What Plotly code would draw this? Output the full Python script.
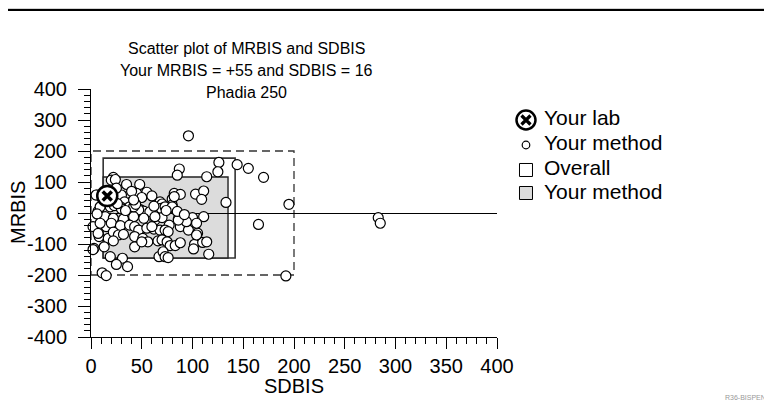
import plotly.graph_objects as go

# ---- data ----
sd = [96, 126, 144, 155, 170, 125, 195, 165, 283, 285, 192,
      87, 85, 114, 133, 103, 111, 109, 82, 88, 80, 80, 76, 68, 70, 67, 55, 48, 45, 35, 22, 20, 24, 30, 40, 38, 33, 29, 48, 52, 58, 7, 6,
      9, 19, 23, 30, 38, 47, 69, 73, 80,
      14, 22, 32, 42, 52, 63, 70, 10, 15, 20, 29, 38, 43, 47, 55, 62, 68, 8, 17, 22, 27, 32, 43, 51, 56, 66, 3, 13, 22, 43, 50, 19, 31, 25, 36, 67, 11, 15,
      86, 100, 111, 88, 96, 77, 73, 76, 105, 70, 75, 78, 83, 88, 102, 110, 101, 71, 73, 76, 116,
      94, 104, 104, 114, 60, 86, 63,
      2, 7, 2, 6, 9, 5,
      40, 50, 60, 25, 42, 26, 34, 44, 62, 74, 85, 92, 42, 82]
mr = [249, 163, 156, 144, 115, 133, 28, -37, -15, -33, -203,
      142, 122, 117, 34, 61, 71, 44, 63, 60, 45, 26, 14, 36, 29, 10, 67, 92, 63, 92, 115, 106, 108, 58, 36, 26, 36, 20, 12, 6, 4, 6, 58,
      20, 20, 24, 13, 20, 10, 15, 20, 20,
      -12, -17, -19, -12, -17, -23, -15, -39, -44, -33, -41, -39, -44, -55, -49, -52, -55, -76, -82, -62, -71, -69, -76, -82, -93, -90, -114, -109, -90, -109, -93, -141, -146, -166, -173, -141, -193, -202,
      -19, -15, -12, -44, -55, -39, -55, -60, -65, -87, -93, -105, -105, -96, -101, -95, -116, -125, -141, -144, -133,
      -28, -33, -71, -93, -44, -23, -12,
      -44, -66, -118, -3, -33, 58,
      70, 50, 55, 80, 20, 30, 8, 28, 22, 8, 5, -5, 42, 53]

lab_sd = [16]
lab_mr = [55]

overall_sd = [12, 142]
overall_mr = [-145, 177]
method_sd = [12, 135]
method_mr = [-145, 116]
limit_sd = [0, 200]
limit_mr = [-200, 200]

x_tick_vals = [0, 50, 100, 150, 200, 250, 300, 350, 400]
x_tick_text = ["0", "50", "100", "150", "200", "250", "300", "350", "400"]
y_tick_vals = [-400, -300, -200, -100, 0, 100, 200, 300, 400]
y_tick_text = ["-400", "-300", "-200", "-100", "0", "100", "200", "300", "400"]

title_lines = ["Scatter plot of MRBIS and SDBIS", "Your MRBIS = +55 and SDBIS = 16", "Phadia 250"]
legend_labels = ["Your lab", "Your method", "Overall", "Your method"]

FONT = "Liberation Sans, Arial, sans-serif"
GREY = "#dcdcdc"

fig = go.Figure()

fig.add_trace(go.Scatter(
    x=sd, y=mr, mode="markers", name="Your method", showlegend=False,
    marker=dict(symbol="circle", size=10, color="white", line=dict(color="black", width=1.2)),
    cliponaxis=False))
fig.add_trace(go.Scatter(
    x=lab_sd, y=lab_mr, mode="markers", name="Your lab", showlegend=False,
    marker=dict(symbol="circle", size=20, color="white", line=dict(color="black", width=2.5)),
    cliponaxis=False))
fig.add_trace(go.Scatter(
    x=lab_sd, y=lab_mr, mode="markers", name="Your lab", showlegend=False, hoverinfo="skip",
    marker=dict(symbol="x-thin", size=9, line=dict(color="black", width=3.5)),
    cliponaxis=False))

# ---- legend (drawn by hand so spacing matches the reference) ----
LEG_X = 1.0714          # symbol centre (paper)
LEG_TX = 1.1108         # text start (paper)
leg_sym_y = [0.8750, 0.7742, 0.6734, 0.5806]
leg_txt_y = [0.8850, 0.7823, 0.6835, 0.5867]

shapes = [
    dict(type="rect", xref="x", yref="y", x0=limit_sd[0], x1=limit_sd[1], y0=limit_mr[0], y1=limit_mr[1],
         line=dict(color="#333333", width=1.3, dash="8px,5px"), layer="below"),
    dict(type="rect", xref="x", yref="y", x0=overall_sd[0], x1=overall_sd[1], y0=overall_mr[0], y1=overall_mr[1],
         line=dict(color="#333333", width=1.6), fillcolor="white", layer="below"),
    dict(type="rect", xref="x", yref="y", x0=method_sd[0], x1=method_sd[1], y0=method_mr[0], y1=method_mr[1],
         line=dict(color="#222222", width=1.4), fillcolor=GREY, layer="below"),
    dict(type="line", xref="paper", yref="paper", x0=-0.3, x1=1.8, y0=1.326, y1=1.326,
         line=dict(color="#bbbbbb", width=1)),
    dict(type="line", xref="paper", yref="paper", x0=-0.3, x1=1.8, y0=1.3185, y1=1.3185,
         line=dict(color="black", width=2)),
]

def px_shape(kind, cx, cy, half, **kw):
    return dict(type=kind, xref="paper", yref="paper", xsizemode="pixel", ysizemode="pixel",
                xanchor=cx, yanchor=cy, x0=-half, x1=half, y0=-half, y1=half, **kw)

shapes += [
    px_shape("circle", LEG_X, leg_sym_y[0], 9.5, line=dict(color="black", width=2.5), fillcolor="white"),
    dict(type="path", xref="paper", yref="paper", xsizemode="pixel", ysizemode="pixel",
         xanchor=LEG_X, yanchor=leg_sym_y[0], path="M-4.5,-4.5L4.5,4.5M-4.5,4.5L4.5,-4.5",
         line=dict(color="black", width=3.2)),
    px_shape("circle", LEG_X, leg_sym_y[1], 3.8, line=dict(color="black", width=1.2), fillcolor="white"),
    px_shape("rect", LEG_X, leg_sym_y[2], 6.5, line=dict(color="black", width=1), fillcolor="white"),
    px_shape("rect", LEG_X, leg_sym_y[3], 6.5, line=dict(color="black", width=1), fillcolor=GREY),
]

annotations = []
for i, ln in enumerate(title_lines):
    annotations.append(dict(text=ln, x=0.382, y=[1.1653, 1.0766, 0.9879][i], xref="paper", yref="paper",
                            xanchor="center", yanchor="middle", showarrow=False, font=dict(size=16)))
for i, lab in enumerate(legend_labels):
    annotations.append(dict(text=lab, x=LEG_TX, y=leg_txt_y[i], xref="paper", yref="paper",
                            xanchor="left", yanchor="middle", showarrow=False, font=dict(size=21)))
annotations += [
    dict(text="SDBIS", x=0.5, y=-0.1976, xref="paper", yref="paper", xanchor="center", yanchor="middle",
         showarrow=False, font=dict(size=20)),
    dict(text="MRBIS", x=-0.1798, y=0.5, xref="paper", yref="paper", xanchor="center", yanchor="middle",
         textangle=-90, showarrow=False, font=dict(size=20)),
    dict(text="R36-BISPEN", x=1.611, y=-0.242, xref="paper", yref="paper",
         xanchor="center", yanchor="middle", showarrow=False, font=dict(size=7, color="#999999")),
]

# page body has an 8px margin, so the figure is 8px smaller than the window
fig.update_layout(
    width=764, height=397, autosize=False,
    margin=dict(l=83, r=275, t=81, b=68),
    paper_bgcolor="white", plot_bgcolor="white",
    font=dict(family=FONT, size=20, color="black"),
    shapes=shapes, annotations=annotations,
    showlegend=False,
)

fig.update_xaxes(range=[0, 400], tickvals=x_tick_vals, ticktext=x_tick_text, automargin=False,
                 showgrid=False, zeroline=False, showline=True, linecolor="black", linewidth=1,
                 ticks="outside", ticklen=11, tickcolor="black", tickwidth=1, ticklabelstandoff=0,
                 minor=dict(dtick=10, ticks="outside", ticklen=6, tickcolor="black", showgrid=False))
fig.update_yaxes(range=[-400, 400], tickvals=y_tick_vals, ticktext=y_tick_text, automargin=False,
                 showgrid=False, zeroline=True, zerolinecolor="black", zerolinewidth=1,
                 showline=True, linecolor="black", linewidth=1,
                 ticks="outside", ticklen=12, tickcolor="black", tickwidth=1, ticklabelstandoff=7,
                 minor=dict(dtick=20, ticks="outside", ticklen=6, tickcolor="black", showgrid=False))

fig.write_html("out.html")
